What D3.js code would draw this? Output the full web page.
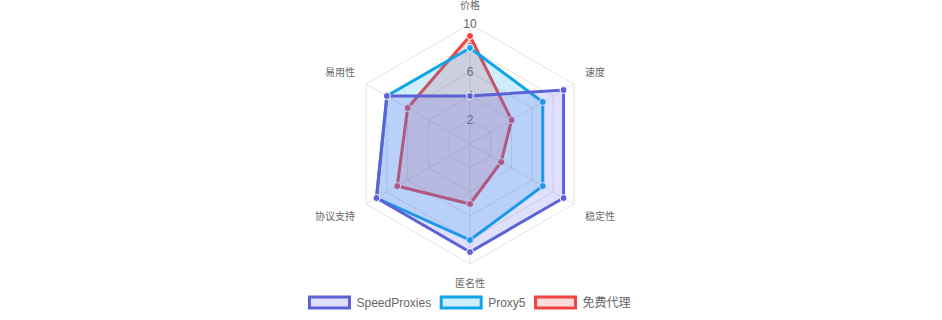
<!DOCTYPE html>
<html>
<head>
<meta charset="utf-8">
<script src="https://cdn.jsdelivr.net/npm/d3@7"></script>
<style>
  body { margin: 0; background: #fff; }
  svg { display: block; font-family: "Liberation Sans", Arial, "Noto Sans CJK SC", sans-serif; }
</style>
</head>
<body>
<div id="chart"></div>
<script>
const axes = ["价格", "速度", "稳定性", "匿名性", "协议支持", "易用性"];
const tickValues = [2, 4, 6, 8, 10];
const seriesNames = ["SpeedProxies", "Proxy5", "免费代理"];
const speedProxies = [4, 9, 9, 9, 9, 8];
const proxy5 = [8, 7, 7, 8, 9, 8];
const freeProxy = [9, 4, 3, 5, 7, 6];

const colors = ["#5c62d6", "#0ea5e9", "#ef4444"];
const fills = ["rgba(99,102,241,0.2)", "rgba(14,165,233,0.2)", "rgba(239,68,68,0.2)"];

const width = 942, height = 320;
const cx = 470, cy = 144;

const svg = d3.select("#chart").append("svg").attr("width", width).attr("height", height);

const r = d3.scaleLinear().domain([0, 10]).range([0, 120]);
const angle = d3.scaleLinear().domain([0, axes.length]).range([-Math.PI / 2, 1.5 * Math.PI]);

const px = (i, v) => cx + r(v) * Math.cos(angle(i));
const py = (i, v) => cy + r(v) * Math.sin(angle(i));

// grid rings
const grid = svg.append("g");
tickValues.forEach(t => {
    const pts = axes.map((a, i) => [px(i, t), py(i, t)]);
    grid.append("polygon").attr("points", pts.map(p => p.join(",")).join(" "))
        .attr("fill", "none").attr("stroke", "#e4e4e4").attr("stroke-width", 1);
});
axes.forEach((a, i) => {
    grid.append("line").attr("x1", cx).attr("y1", cy).attr("x2", px(i, 10)).attr("y2", py(i, 10))
        .attr("stroke", "#e4e4e4").attr("stroke-width", 1);
});

// tick labels
svg.append("g").selectAll("text").data(tickValues).enter().append("text")
    .attr("x", cx).attr("y", d => cy - r(d))
    .attr("text-anchor", "middle").attr("dominant-baseline", "central")
    .attr("font-size", 12).attr("fill", "#666").text(d => d);

// point labels
svg.append("g").selectAll("text").data(axes).enter().append("text")
    .attr("x", (d, i) => {
        const x = px(i, 10), c = Math.cos(angle(i));
        if (Math.abs(c) < 0.01) return x;
        return c > 0 ? x + 11 : x - 11;
    })
    .attr("y", (d, i) => {
        const y = py(i, 10), s = Math.sin(angle(i));
        if (Math.abs(s) > 0.99) return s < 0 ? y - 19 : y + 19;
        return s < 0 ? y - 12 : y + 12;
    })
    .attr("text-anchor", (d, i) => {
        const c = Math.cos(angle(i));
        if (Math.abs(c) < 0.01) return "middle";
        return c > 0 ? "start" : "end";
    })
    .attr("dominant-baseline", "central")
    .attr("font-size", 10).attr("fill", "#666").text(d => d);

// datasets: first drawn last (on top)
const datasets = [speedProxies, proxy5, freeProxy];
const line = d3.line().x(d => px(d.i, d.v)).y(d => py(d.i, d.v)).curve(d3.curveLinearClosed);

for (let k = datasets.length - 1; k >= 0; k--) {
    const pts = datasets[k].map((v, i) => ({ i, v }));
    const g = svg.append("g");
    g.append("path").attr("d", line(pts))
        .attr("fill", fills[k]).attr("stroke", colors[k]).attr("stroke-width", 3)
        .attr("stroke-linejoin", "miter");
    g.selectAll("circle").data(pts).enter().append("circle")
        .attr("cx", d => px(d.i, d.v)).attr("cy", d => py(d.i, d.v))
        .attr("r", 3.5).attr("fill", colors[k]).attr("stroke", "#fff").attr("stroke-width", 1);
}

// legend
const legend = svg.append("g");
const items = legend.selectAll("g").data(seriesNames).enter().append("g");
items.append("rect").attr("width", 40).attr("height", 11)
    .attr("fill", (d, k) => fills[k]).attr("stroke", (d, k) => colors[k]).attr("stroke-width", 3);
items.append("text").attr("x", 47).attr("y", 5.5).attr("dominant-baseline", "central")
    .attr("font-size", 12).attr("fill", "#666").text(d => d);

let widths = [];
items.each(function () { widths.push(47 + d3.select(this).select("text").node().getComputedTextLength()); });
const gap = 10;
const total = d3.sum(widths) + gap * (widths.length - 1);
let x0 = cx - total / 2;
items.attr("transform", (d, k) => {
    const x = x0;
    x0 += widths[k] + gap;
    return `translate(${x},297)`;
});
</script>
</body>
</html>
